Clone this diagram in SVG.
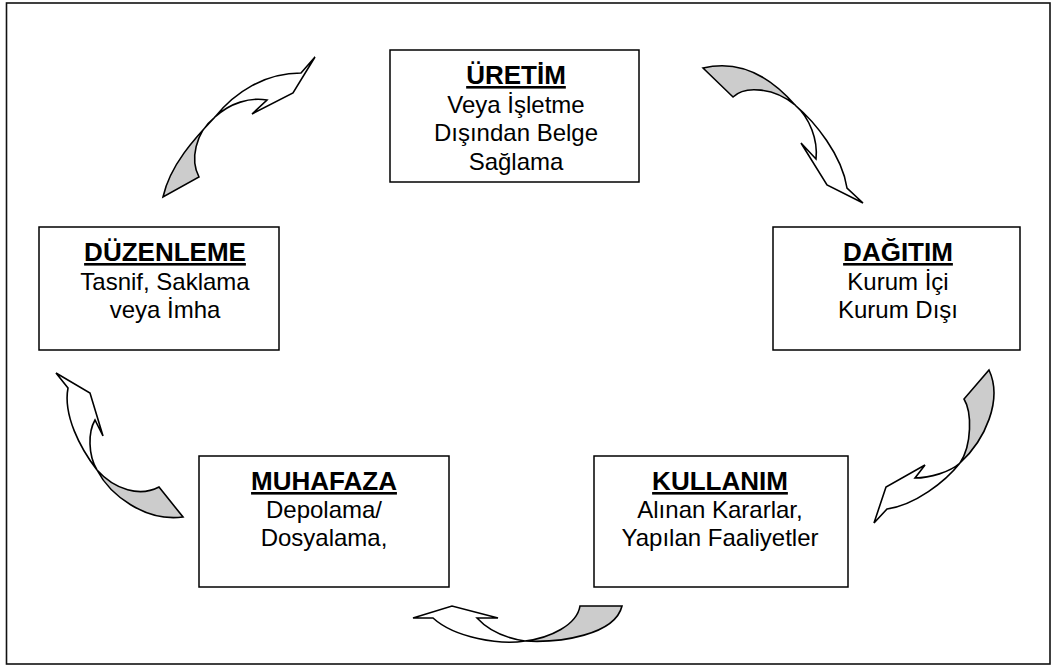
<svg xmlns="http://www.w3.org/2000/svg" width="1051" height="666" viewBox="0 0 1051 666">
<style>
.box{fill:#fff;stroke:#000;stroke-width:1.5}
.frame{fill:none;stroke:#111;stroke-width:1.6}
.t{font-family:"Liberation Sans",Arial,sans-serif;font-size:24px;fill:#000;text-anchor:middle}
.h{font-family:"Liberation Sans",Arial,sans-serif;font-size:26px;font-weight:bold;fill:#000;text-anchor:middle;text-decoration:underline}
.w{fill:#fff;stroke:#000;stroke-width:1.6;stroke-linejoin:miter}
.g{fill:#cccccc;stroke:#000;stroke-width:1.6;stroke-linejoin:miter}
</style>
<rect class="frame" x="6.5" y="3" width="1043.5" height="661"/>
<g id="connectors">
  <g id="arrow-duzenleme-uretim">
    <path class="g" d="M215,117 C195,138 170,165 163,197 L199,177 C190,160 195,133 215,117 Z"/>
    <path class="w" d="M215,117 C235,92 265,73 301,73 L315,57 L293,93 L252,114 L267,100 C250,97 230,103 215,117 Z"/>
  </g>
  <g id="arrow-uretim-dagitim">
    <path class="g" d="M795,105 C775,82 745,58 703,68 L733,97 C745,85 775,88 795,105 Z"/>
    <path class="w" d="M795,105 C815,122 842,155 847,188 L863,203 L827,185 L801,143 L816,159 C818,140 810,118 795,105 Z"/>
  </g>
  <g id="arrow-dagitim-kullanim">
    <path class="g" d="M960,463 C985,440 1003,400 989,370 L964,399 C972,412 972,445 960,463 Z"/>
    <path class="w" d="M960,463 C945,482 915,505 887,509 L874,523 L886,487 L925,465 L915,478 C930,478 950,472 960,463 Z"/>
  </g>
  <g id="arrow-kullanim-muhafaza">
    <path class="g" d="M525,641 C560,643 615,635 622,606 L580,606 C577,625 550,638 525,641 Z"/>
    <path class="w" d="M525,641 C500,645 455,638 433,618 L413,618 L452,606 L498,618 L477,618 C488,630 505,638 525,641 Z"/>
  </g>
  <g id="arrow-muhafaza-duzenleme">
    <path class="g" d="M97,470 C110,495 145,522 183,517 L159,487 C140,497 115,490 97,470 Z"/>
    <path class="w" d="M97,470 C80,448 63,415 68,388 L56,373 L90,393 L103,436 L95,420 C88,432 88,455 97,470 Z"/>
  </g>
</g>
<g id="uretim">
  <rect class="box" x="390" y="50" width="249" height="132"/>
  <text class="h" x="516" y="84">ÜRETİM</text>
  <text class="t" x="516" y="113">Veya İşletme</text>
  <text class="t" x="516" y="141">Dışından Belge</text>
  <text class="t" x="516" y="170">Sağlama</text>
</g>
<g id="duzenleme">
  <rect class="box" x="39" y="227" width="240" height="123"/>
  <text class="h" x="165" y="261">DÜZENLEME</text>
  <text class="t" x="165" y="290">Tasnif, Saklama</text>
  <text class="t" x="165" y="318">veya İmha</text>
</g>
<g id="dagitim">
  <rect class="box" x="773" y="227" width="247" height="123"/>
  <text class="h" x="898" y="261">DAĞITIM</text>
  <text class="t" x="898" y="290">Kurum İçi</text>
  <text class="t" x="898" y="318">Kurum Dışı</text>
</g>
<g id="muhafaza">
  <rect class="box" x="199" y="456" width="250" height="131"/>
  <text class="h" x="324" y="490">MUHAFAZA</text>
  <text class="t" x="324" y="518">Depolama/</text>
  <text class="t" x="324" y="546">Dosyalama,</text>
</g>
<g id="kullanim">
  <rect class="box" x="594" y="456" width="254" height="131"/>
  <text class="h" x="720" y="490">KULLANIM</text>
  <text class="t" x="720" y="518">Alınan Kararlar,</text>
  <text class="t" x="720" y="546">Yapılan Faaliyetler</text>
</g>
</svg>
